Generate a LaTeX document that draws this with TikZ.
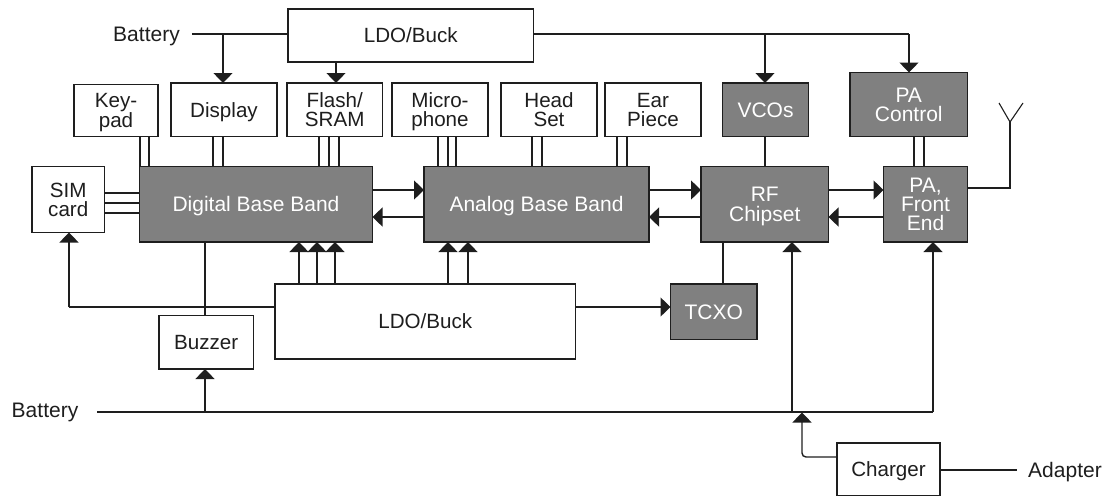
\documentclass[tikz,border=0pt]{standalone}
\usepackage{fontspec}
\setmainfont{Liberation Sans}
\usetikzlibrary{arrows.meta}
\definecolor{ink}{HTML}{1E1E1E}
\definecolor{chip}{HTML}{808080}
\tikzset{
  wire/.style={draw=ink,line width=1.4pt},
  arr/.style={wire,-{Triangle[width=19pt,length=10pt]}},
  base/.style={draw=ink,line width=1.5pt,align=center,inner sep=0pt,outer sep=0pt,text depth=0pt},
  whitebox/.style={base,fill=white,text=ink,font=\fontsize{20.6}{19.3}\selectfont},
  chipbox/.style={base,fill=chip,text=white,font=\fontsize{21}{19.3}\selectfont},
  label/.style={text=ink,inner ysep=0pt,outer sep=0pt,text depth=0pt,font=\fontsize{21}{24}\selectfont},
}
% name, x1, y1, x2, y2, style, text
\newcommand{\bx}[7]{%
  \pgfmathsetmacro{\cxx}{(#2+#4)/2}\pgfmathsetmacro{\cyy}{(#3+#5)/2}%
  \pgfmathsetmacro{\wdd}{#4-#2}\pgfmathsetmacro{\htt}{#5-#3}%
  \node[#6,minimum width=\wdd pt,minimum height=\htt pt] (#1) at (\cxx,\cyy) {#7};}
% parallel vertical link at x from south of #2 to north of #3
\newcommand{\vl}[3]{\draw[wire] (#1,0 |- #2.south) -- (#1,0 |- #3.north);}
% horizontal link at y from east of #2 to west of #3
\newcommand{\hl}[3]{\draw[wire] (#2.east |- 0,#1) -- (#3.west |- 0,#1);}
\newcommand{\hr}[3]{\draw[arr] (#2.east |- 0,#1) -- (#3.west |- 0,#1);}
\newcommand{\hb}[3]{\draw[arr] (#3.west |- 0,#1) -- (#2.east |- 0,#1);}
% upward arrow at x from north of #2 to south of #3
\newcommand{\up}[3]{\draw[arr] (#1,0 |- #2.north) -- (#1,0 |- #3.south);}
\begin{document}
\begin{tikzpicture}[x=1pt,y=-1pt]
\useasboundingbox (0,0) rectangle (1107,496);
% boxes
\bx{ldotop}{288}{9}{533.5}{62}{whitebox}{LDO/Buck}
\bx{keypad}{74}{84.5}{158}{136.5}{whitebox}{Key-\\pad}
\bx{display}{171}{83}{277}{136.5}{whitebox}{Display}
\bx{flash}{287}{83}{382.5}{136.5}{whitebox}{Flash/\\SRAM}
\bx{micro}{392}{83}{488}{136.5}{whitebox}{Micro-\\phone}
\bx{head}{501}{83}{597}{136.5}{whitebox}{Head\\Set}
\bx{ear}{605}{83}{701}{136.5}{whitebox}{Ear\\Piece}
\bx{vcos}{722.5}{83}{808.5}{136.5}{chipbox}{VCOs}
\bx{pactl}{850}{72.5}{967.5}{136.5}{chipbox}{PA\\Control}
\bx{sim}{32}{166.5}{104.5}{232.5}{whitebox}{SIM\\card}
\bx{dbb}{139.5}{166.5}{372.5}{242}{chipbox}{Digital Base Band}
\bx{abb}{424}{166.5}{649}{242}{chipbox}{Analog Base Band}
\bx{rf}{701}{166.5}{828.5}{242}{chipbox}{RF\\Chipset}
\bx{pafe}{883.5}{166.5}{967.5}{242}{chipbox}{PA,\\Front\\End}
\bx{ldobot}{275}{284}{575.5}{359}{whitebox}{LDO/Buck}
\bx{buzzer}{159}{315.5}{253.5}{369}{whitebox}{Buzzer}
\bx{tcxo}{670.5}{284}{757}{339.5}{chipbox}{TCXO}
\bx{charger}{837}{443}{940}{495.6}{whitebox}{Charger}
% labels
\node[label,inner xsep=12pt] (battop) at (146.5,34.5) {Battery};
\node[label,inner xsep=19pt] (batbot) at (45,410) {Battery};
\node[label,inner xsep=11pt] (adapter) at (1065,470) {Adapter};
% coordinates
\coordinate (tapdisp) at (223,34);
\coordinate (tapvco) at (765,34);
\coordinate (tappa) at (909,34);
\coordinate (tapbuzz) at (205,412);
\coordinate (batstart) at (97,412);
\coordinate (taprf) at (792,412);
\coordinate (tapfe) at (933,412);
\coordinate (tapchg) at (802,412.5);
\coordinate (simbend) at (69,307);
\coordinate (ant) at (1010,122);
\coordinate (antl) at (999,103);
\coordinate (antr) at (1023,103);
% top supply rail
\draw[wire] (battop.east |- tapdisp) -- (ldotop.west |- tapdisp);
\draw[arr] (tapdisp) -- (tapdisp |- display.north);
\draw[arr] (336,0 |- ldotop.south) -- (336,0 |- flash.north);
\draw[wire] (ldotop.east |- tappa) -- (tappa);
\draw[arr] (tappa) -- (tappa |- pactl.north);
\draw[arr] (tapvco) -- (tapvco |- vcos.north);
% peripheral links
\vl{140}{keypad}{dbb}\vl{149}{keypad}{dbb}
\vl{213}{display}{dbb}\vl{223}{display}{dbb}
\vl{319}{flash}{dbb}\vl{329}{flash}{dbb}\vl{339}{flash}{dbb}
\vl{438}{micro}{abb}\vl{448}{micro}{abb}\vl{456}{micro}{abb}
\vl{532}{head}{abb}\vl{542}{head}{abb}
\vl{617}{ear}{abb}\vl{627}{ear}{abb}
\vl{765}{vcos}{rf}
\vl{914}{pactl}{pafe}\vl{924}{pactl}{pafe}
\hl{193}{sim}{dbb}\hl{203}{sim}{dbb}\hl{213}{sim}{dbb}
% chip to chip
\hr{190}{dbb}{abb}\hb{217}{dbb}{abb}
\hr{190}{abb}{rf}\hb{217}{abb}{rf}
\hr{190}{rf}{pafe}\hb{217}{rf}{pafe}
% antenna
\draw[wire] (pafe.east |- 0,188) -| (ant);
\draw[wire,line width=1.1pt] (antl) -- (ant) -- (antr);
% lower supply
\up{299}{ldobot}{dbb}\up{317}{ldobot}{dbb}\up{335}{ldobot}{dbb}
\up{448}{ldobot}{abb}\up{468}{ldobot}{abb}
\draw[wire] (ldobot.west |- simbend) -- (simbend);
\draw[arr] (simbend) -- (simbend |- sim.south);
\draw[wire] (205,0 |- dbb.south) -- (205,0 |- buzzer.north);
\draw[arr] (ldobot.east |- 0,307) -- (tcxo.west |- 0,307);
\draw[wire] (723,0 |- tcxo.north) -- (723,0 |- rf.south);
% battery rail
\draw[wire] (batstart) -- (tapfe);
\draw[arr] (tapbuzz) -- (tapbuzz |- buzzer.south);
\draw[arr] (taprf) -- (taprf |- rf.south);
\draw[arr] (tapfe) -- (tapfe |- pafe.south);
% charger
\draw[arr,rounded corners=4pt] (charger.west |- 0,457) -| (tapchg);
\draw[wire] (charger.east |- adapter.west) -- (adapter.west);
\end{tikzpicture}
\end{document}
